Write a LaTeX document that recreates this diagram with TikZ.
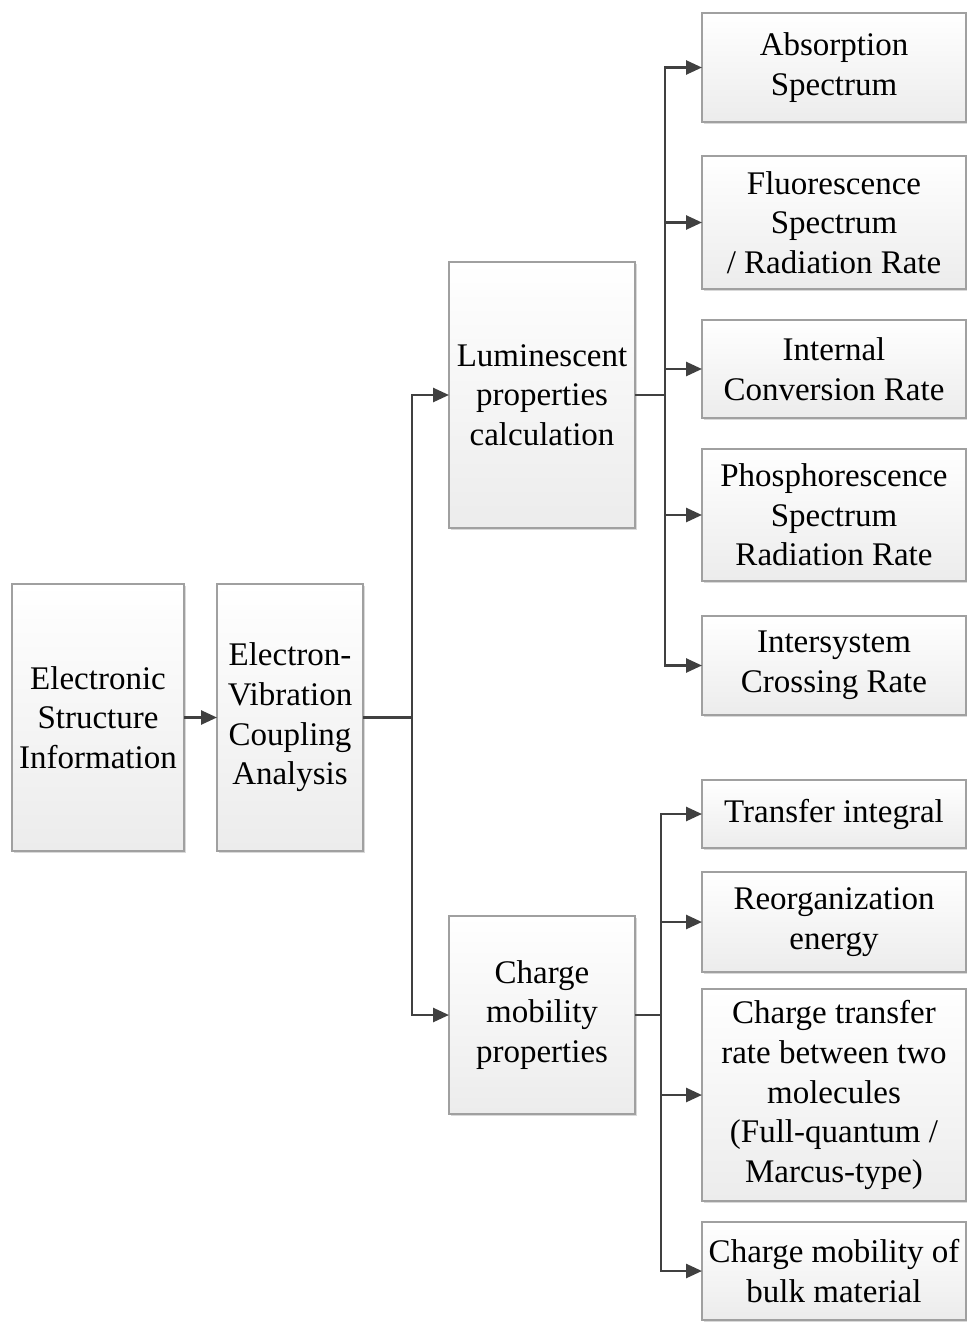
\documentclass[tikz,border=0pt]{standalone}
\usepackage{fontspec}
\setmainfont{Liberation Serif}
\usetikzlibrary{arrows.meta,shadows}

\definecolor{linegray}{RGB}{64,64,64}
\definecolor{boxline}{RGB}{160,160,160}

\tikzset{
  box/.style={draw=boxline, line width=0.6pt, top color=white, bottom color=gray!15,
    inner sep=0pt, outer sep=0pt, align=center,
    font=\fontsize{16.5}{19.8}\selectfont,
    drop shadow={opacity=0.3, shadow xshift=0.9pt, shadow yshift=-0.9pt}},
  link/.style={draw=linegray, line width=1.3pt},
  arr/.style={link, -{Triangle[length=8pt,width=7pt]}}
}

\begin{document}
\begin{tikzpicture}[x=0.5pt,y=-0.5pt]
\useasboundingbox (0,0) rectangle (967,1322);

    % left part
    \node[box, minimum width=86pt, minimum height=133.5pt] (esi) at (98,717.5) {Electronic\\Structure\\Information};
    \node[box, minimum width=73pt, minimum height=133.5pt] (evc) at (290,717.5) {Electron-\\Vibration\\Coupling\\Analysis};

    \node[box, minimum width=93pt, minimum height=133pt] (lum) at (542,395) {Luminescent\\properties\\calculation};
    \node[box, minimum width=93pt, minimum height=99pt] (chg) at (542,1015) {Charge\\mobility\\properties};

    % luminescent outputs
    \node[box, minimum width=132pt, minimum height=54.5pt] (abs) at (834,67.5) {Absorption\\Spectrum};
    \node[box, minimum width=132pt, minimum height=66.5pt] (flu) at (834,222.5) {Fluorescence\\Spectrum\\/ Radiation Rate};
    \node[box, minimum width=132pt, minimum height=49pt] (icr) at (834,369) {Internal\\Conversion Rate};
    \node[box, minimum width=132pt, minimum height=66pt] (pho) at (834,515) {Phosphorescence\\Spectrum\\Radiation Rate};
    \node[box, minimum width=132pt, minimum height=49.5pt] (isc) at (834,665.5) {Intersystem\\Crossing Rate};

    % charge mobility outputs
    \node[box, minimum width=132pt, minimum height=34pt] (ti) at (834,814) {Transfer integral};
    \node[box, minimum width=132pt, minimum height=50pt] (reo) at (834,922) {Reorganization\\energy};
    \node[box, minimum width=132pt, minimum height=106pt] (ctr) at (834,1095) {Charge transfer\\rate between two\\molecules\\(Full-quantum /\\Marcus-type)};
    \node[box, minimum width=132pt, minimum height=49pt] (cmb) at (834,1271) {Charge mobility of\\bulk material};

    \coordinate (jmain) at (412,717.5);
    \coordinate (jlum) at (665,395);
    \coordinate (jchg) at (661,1015);

    \draw[arr] (esi) -- (evc);
    \draw[link] (evc.east) -- (jmain);
    \draw[arr] (jmain) |- (lum.west);
    \draw[arr] (jmain) |- (chg.west);

    \draw[link] (lum.east) -- (jlum);
    \foreach \n in {abs,flu,icr,pho,isc}
        \draw[arr] (jlum) |- (\n.west);

    \draw[link] (chg.east) -- (jchg);
    \foreach \n in {ti,reo,ctr,cmb}
        \draw[arr] (jchg) |- (\n.west);
\end{tikzpicture}
\end{document}
